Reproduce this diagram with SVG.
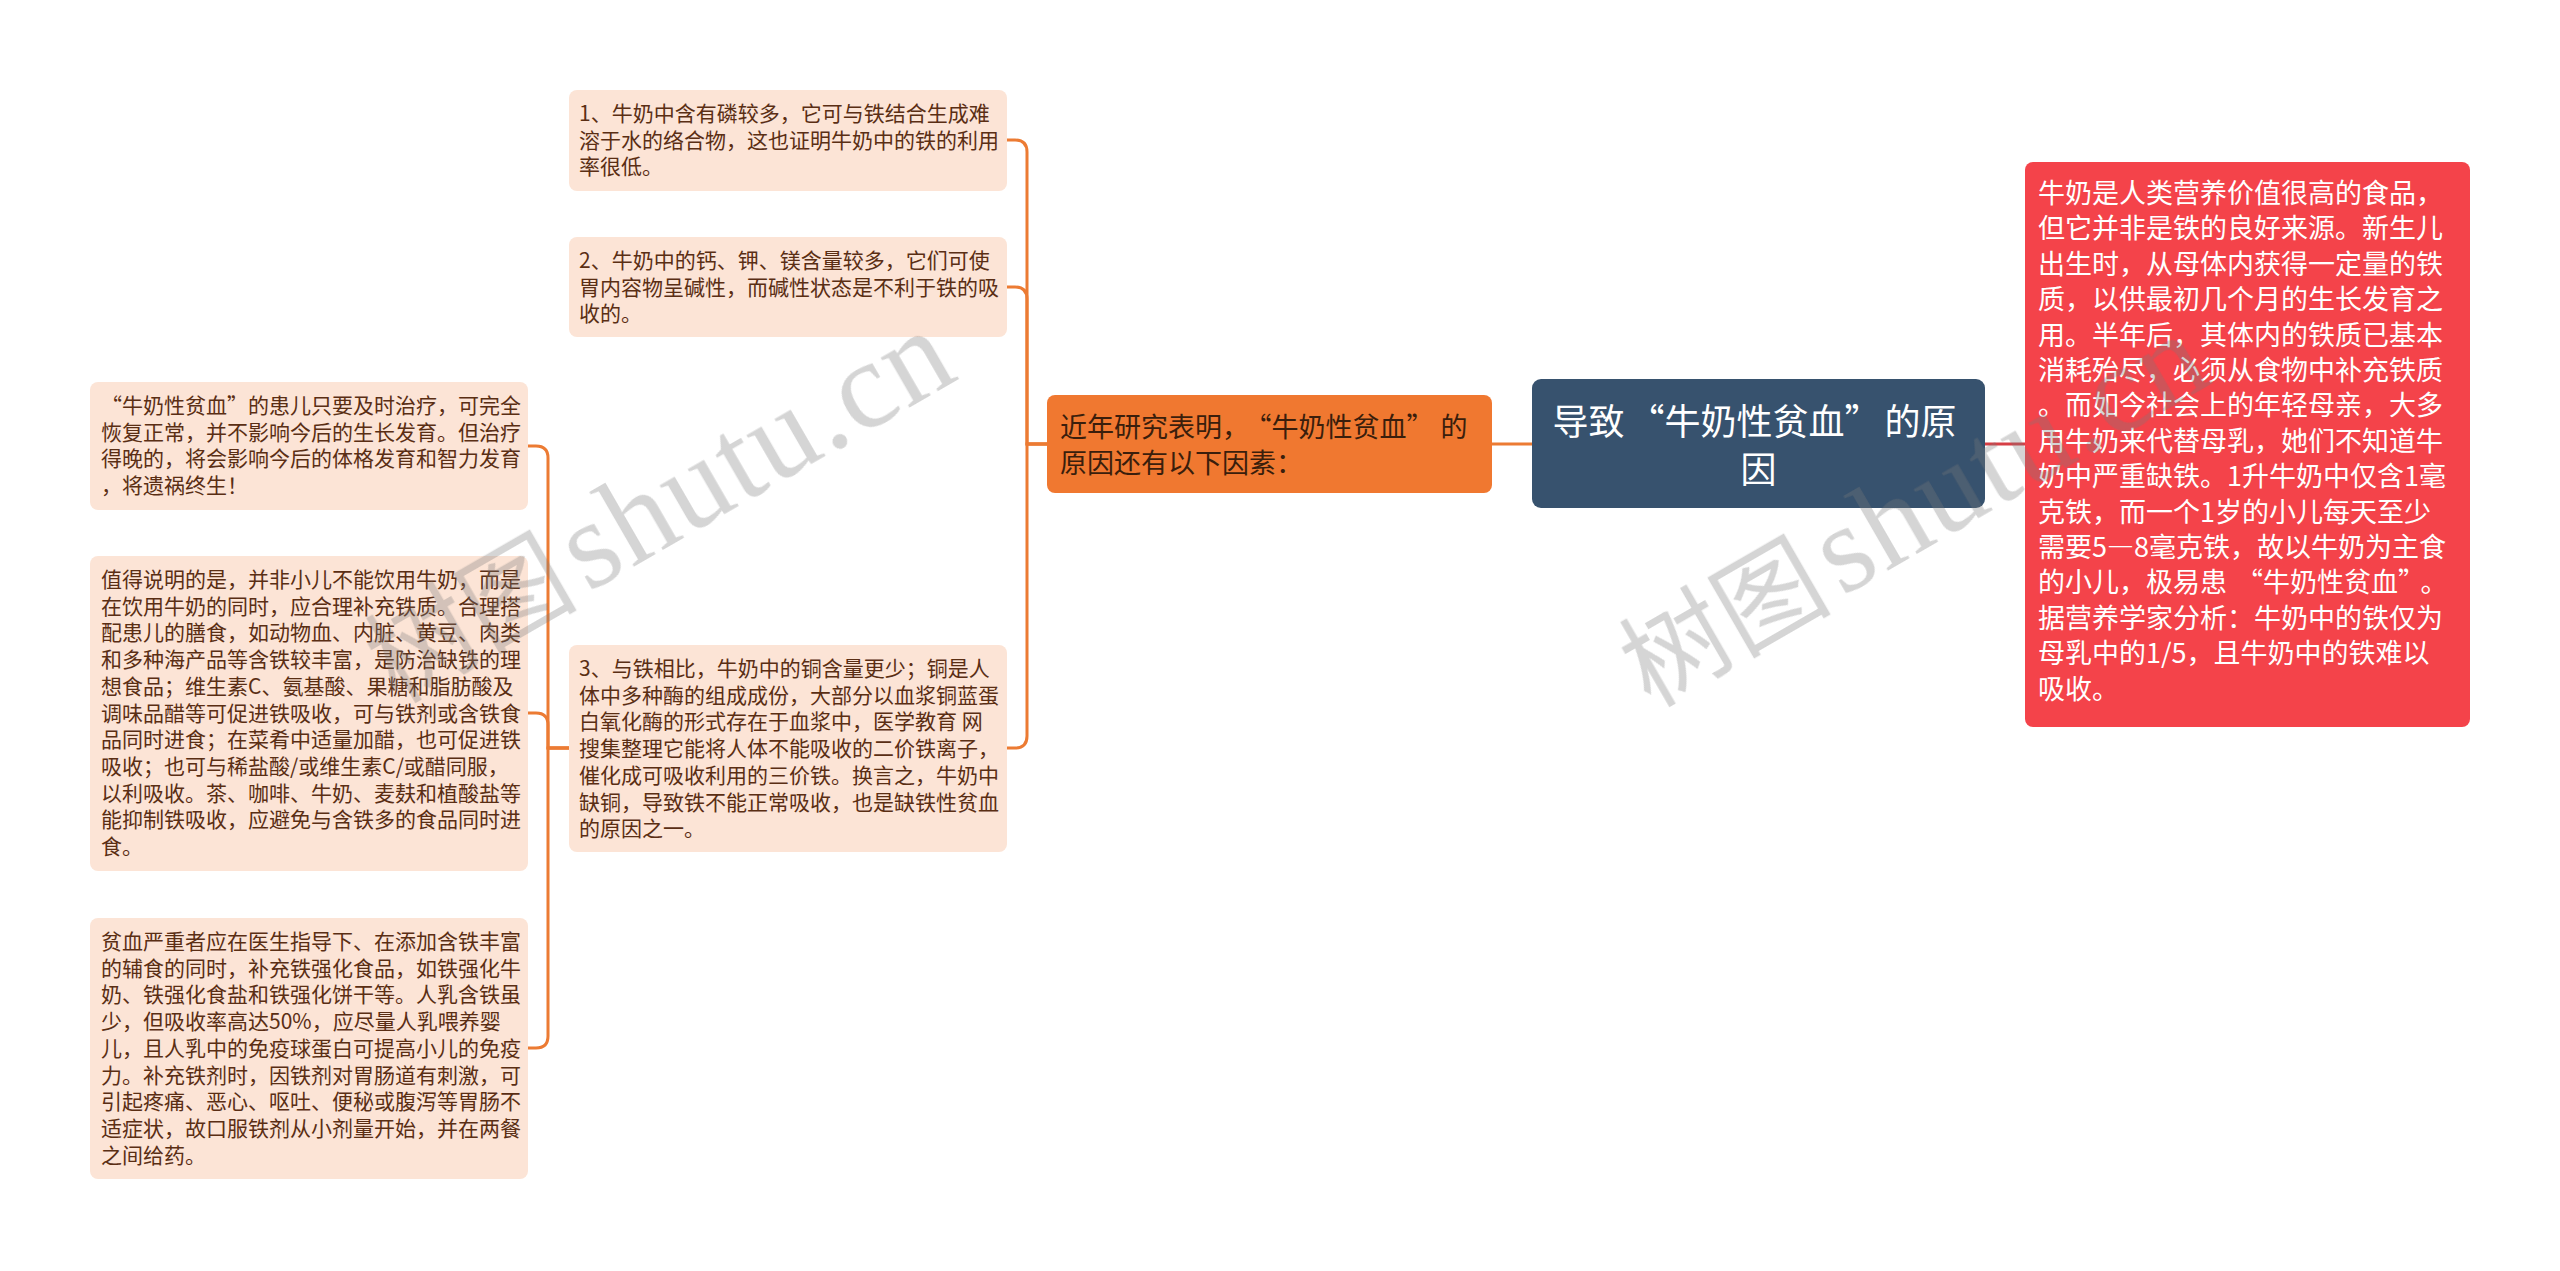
<svg xmlns="http://www.w3.org/2000/svg" width="2560" height="1271" viewBox="0 0 2560 1271" xml:lang="zh-CN">
<style>
  .leaf rect { fill: #FCE4D6; }
  .leaf text { font-family: "Noto Sans CJK SC", "Noto Sans", sans-serif; font-size: 21px; fill: #5A2E14; }
  .l1 text { font-family: "Noto Sans CJK SC", "Noto Sans", sans-serif; font-size: 27px; }
  .conn path { fill: none; stroke-width: 3; stroke-linecap: round; }
  .co { stroke: #EC7B33; }
  .cr { stroke: #D63E45; }
  .wm { fill: #7A7A7A; opacity: 0.32; }
  .wmc { font-family: "Noto Sans CJK SC", sans-serif; font-size: 106px; }
  .wml { font-family: "Liberation Serif", serif; font-size: 124px; }
</style>
<rect width="2560" height="1271" fill="#FFFFFF"/>

<g id="connectors" class="conn">
  <path class="co" d="M1532,444 H1492"/>
  <path class="cr" d="M1985,444 H2025"/>
  <path class="co" d="M1047,444 H1027 V152 Q1027,140 1015,140 H1007"/>
  <path class="co" d="M1047,444 H1027 V299 Q1027,287 1015,287 H1007"/>
  <path class="co" d="M1047,444 H1027 V736 Q1027,748 1015,748 H1007"/>
  <path class="co" d="M569,748 H548 V458 Q548,446 536,446 H528"/>
  <path class="co" d="M569,748 H548 V725 Q548,713 536,713 H528"/>
  <path class="co" d="M569,748 H548 V1036 Q548,1048 536,1048 H528"/>
</g>

<g id="root">
  <rect x="1532" y="379" width="453" height="129" rx="9" fill="#37526E"/>
  <text font-family="Noto Sans CJK SC, sans-serif" font-size="36" fill="#FFFFFF" text-anchor="middle">
    <tspan x="1758.5" y="435">导致<tspan dx="4">“</tspan>牛奶性贫血”<tspan dx="4">的原</tspan></tspan>
    <tspan x="1758.5" y="483">因</tspan>
  </text>
</g>

<g id="left-main" class="l1">
  <rect x="1047" y="395" width="445" height="98" rx="8" fill="#F07830"/>
  <text fill="#3A1E0C">
    <tspan x="1060" y="437">近年研究表明，<tspan dx="9">“</tspan>牛奶性贫血”<tspan dx="7">的</tspan></tspan>
    <tspan x="1060" y="473">原因还有以下因素：</tspan>
  </text>
</g>

<g id="right-main" class="l1">
  <rect x="2025" y="162" width="445" height="565" rx="8" fill="#F4434A"/>
  <text fill="#FFFFFF">
    <tspan x="2038" y="203">牛奶是人类营养价值很高的食品，</tspan>
    <tspan x="2038" y="238.4">但它并非是铁的良好来源。新生儿</tspan>
    <tspan x="2038" y="273.8">出生时，从母体内获得一定量的铁</tspan>
    <tspan x="2038" y="309.2">质，以供最初几个月的生长发育之</tspan>
    <tspan x="2038" y="344.6">用。半年后，其体内的铁质已基本</tspan>
    <tspan x="2038" y="380">消耗殆尽，必须从食物中补充铁质</tspan>
    <tspan x="2038" y="415.4">。而如今社会上的年轻母亲，大多</tspan>
    <tspan x="2038" y="450.8">用牛奶来代替母乳，她们不知道牛</tspan>
    <tspan x="2038" y="486.2">奶中严重缺铁。1升牛奶中仅含1毫</tspan>
    <tspan x="2038" y="521.6">克铁，而一个1岁的小儿每天至少</tspan>
    <tspan x="2038" y="557">需要5—8毫克铁，故以牛奶为主食</tspan>
    <tspan x="2038" y="592.4">的小儿，极易患<tspan dx="9">“</tspan>牛奶性贫血”<tspan dx="9">。</tspan></tspan>
    <tspan x="2038" y="627.8">据营养学家分析：牛奶中的铁仅为</tspan>
    <tspan x="2038" y="663.2">母乳中的1/5，且牛奶中的铁难以</tspan>
    <tspan x="2038" y="698.6">吸收。</tspan>
  </text>
</g>

<g id="factor-1" class="leaf">
  <rect x="569" y="90" width="438" height="101" rx="8"/>
  <text>
    <tspan x="579" y="121">1、牛奶中含有磷较多，它可与铁结合生成难</tspan>
    <tspan x="579" y="147.7">溶于水的络合物，这也证明牛奶中的铁的利用</tspan>
    <tspan x="579" y="174.4">率很低。</tspan>
  </text>
</g>

<g id="factor-2" class="leaf">
  <rect x="569" y="237" width="438" height="100" rx="8"/>
  <text>
    <tspan x="579" y="268">2、牛奶中的钙、钾、镁含量较多，它们可使</tspan>
    <tspan x="579" y="294.7">胃内容物呈碱性，而碱性状态是不利于铁的吸</tspan>
    <tspan x="579" y="321.4">收的。</tspan>
  </text>
</g>

<g id="factor-3" class="leaf">
  <rect x="569" y="645" width="438" height="207" rx="8"/>
  <text>
    <tspan x="579" y="676">3、与铁相比，牛奶中的铜含量更少；铜是人</tspan>
    <tspan x="579" y="702.7">体中多种酶的组成成份，大部分以血浆铜蓝蛋</tspan>
    <tspan x="579" y="729.4">白氧化酶的形式存在于血浆中，医学教育 网</tspan>
    <tspan x="579" y="756.1">搜集整理它能将人体不能吸收的二价铁离子，</tspan>
    <tspan x="579" y="782.8">催化成可吸收利用的三价铁。换言之，牛奶中</tspan>
    <tspan x="579" y="809.5">缺铜，导致铁不能正常吸收，也是缺铁性贫血</tspan>
    <tspan x="579" y="836.2">的原因之一。</tspan>
  </text>
</g>

<g id="note-a" class="leaf">
  <rect x="90" y="382" width="438" height="128" rx="8"/>
  <text>
    <tspan x="101" y="413">“牛奶性贫血”的患儿只要及时治疗，可完全</tspan>
    <tspan x="101" y="439.7">恢复正常，并不影响今后的生长发育。但治疗</tspan>
    <tspan x="101" y="466.4">得晚的，将会影响今后的体格发育和智力发育</tspan>
    <tspan x="101" y="493.1">，将遗祸终生！</tspan>
  </text>
</g>

<g id="note-b" class="leaf">
  <rect x="90" y="556" width="438" height="315" rx="8"/>
  <text>
    <tspan x="101" y="587">值得说明的是，并非小儿不能饮用牛奶，而是</tspan>
    <tspan x="101" y="613.7">在饮用牛奶的同时，应合理补充铁质。合理搭</tspan>
    <tspan x="101" y="640.4">配患儿的膳食，如动物血、内脏、黄豆、肉类</tspan>
    <tspan x="101" y="667.1">和多种海产品等含铁较丰富，是防治缺铁的理</tspan>
    <tspan x="101" y="693.8">想食品；维生素C、氨基酸、果糖和脂肪酸及</tspan>
    <tspan x="101" y="720.5">调味品醋等可促进铁吸收，可与铁剂或含铁食</tspan>
    <tspan x="101" y="747.2">品同时进食；在菜肴中适量加醋，也可促进铁</tspan>
    <tspan x="101" y="773.9">吸收；也可与稀盐酸/或维生素C/或醋同服，</tspan>
    <tspan x="101" y="800.6">以利吸收。茶、咖啡、牛奶、麦麸和植酸盐等</tspan>
    <tspan x="101" y="827.3">能抑制铁吸收，应避免与含铁多的食品同时进</tspan>
    <tspan x="101" y="854">食。</tspan>
  </text>
</g>

<g id="note-c" class="leaf">
  <rect x="90" y="918" width="438" height="261" rx="8"/>
  <text>
    <tspan x="101" y="949">贫血严重者应在医生指导下、在添加含铁丰富</tspan>
    <tspan x="101" y="975.7">的辅食的同时，补充铁强化食品，如铁强化牛</tspan>
    <tspan x="101" y="1002.4">奶、铁强化食盐和铁强化饼干等。人乳含铁虽</tspan>
    <tspan x="101" y="1029.1">少，但吸收率高达50%，应尽量人乳喂养婴</tspan>
    <tspan x="101" y="1055.8">儿，且人乳中的免疫球蛋白可提高小儿的免疫</tspan>
    <tspan x="101" y="1082.5">力。补充铁剂时，因铁剂对胃肠道有刺激，可</tspan>
    <tspan x="101" y="1109.2">引起疼痛、恶心、呕吐、便秘或腹泻等胃肠不</tspan>
    <tspan x="101" y="1135.9">适症状，故口服铁剂从小剂量开始，并在两餐</tspan>
    <tspan x="101" y="1162.6">之间给药。</tspan>
  </text>
</g>

<g id="watermarks" class="wm">
  <g transform="translate(396,704) rotate(-30)">
    <text class="wmc" x="0" y="0">树图</text>
    <text class="wml" x="222" y="0" textLength="430" lengthAdjust="spacing">shutu.cn</text>
  </g>
  <g transform="translate(1650,708) rotate(-30)">
    <text class="wmc" x="0" y="0">树图</text>
    <text class="wml" x="222" y="0" textLength="430" lengthAdjust="spacing">shutu.cn</text>
  </g>
</g>
</svg>
